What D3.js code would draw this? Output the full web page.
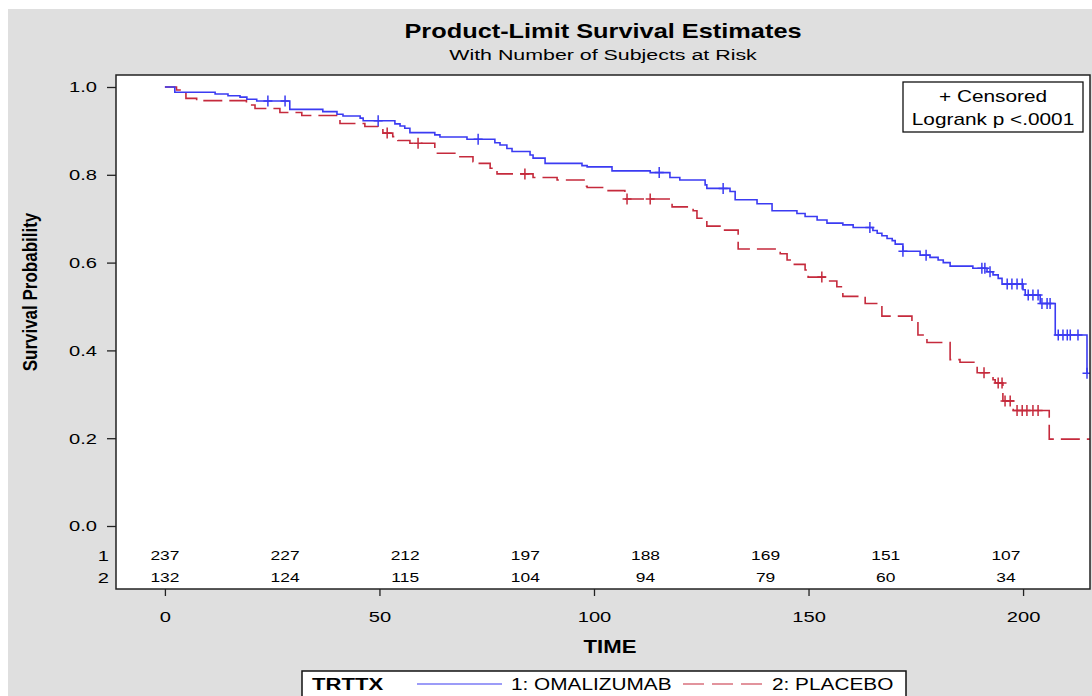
<!DOCTYPE html>
<html>
<head>
<meta charset="utf-8">
<script src="https://cdn.jsdelivr.net/npm/d3@7.9.0/dist/d3.min.js"></script>
<style>
  body { margin: 0; background: #fff; }
  svg text { font-family: "Liberation Sans", Arial, sans-serif; fill: #000; }
</style>
</head>
<body>
<svg id="chart" width="1092" height="696"></svg>
<script>
// KM steps: time of each event and survival after it
const omaTime = [2.3,11.7,14.7,17.5,19.1,21.4,29.1,36.8,40.1,41.5,45.5,46.2,53.6,54.8,55.9,57.1,62.9,64.1,70.4,76.9,78.1,79.7,80.9,85.1,85.8,88.6,97.2,98.4,104.2,113.1,117.7,120.0,125.9,126.3,131.7,132.9,138.0,141.5,147.3,149.2,152.0,154.3,158.0,160.4,165.0,166.0,167.1,168.3,169.5,170.2,172.0,176.0,178.3,180.2,181.4,183.0,188.3,191.6,193.0,194.2,195.1,200.0,200.5,204.0,207.5,214.9];
const omaSurv = [0.988,0.984,0.980,0.977,0.972,0.968,0.949,0.944,0.938,0.934,0.929,0.923,0.916,0.911,0.906,0.896,0.891,0.886,0.881,0.873,0.868,0.860,0.853,0.845,0.838,0.826,0.821,0.818,0.809,0.805,0.794,0.788,0.777,0.769,0.762,0.743,0.734,0.718,0.712,0.705,0.697,0.690,0.686,0.680,0.673,0.667,0.661,0.655,0.650,0.642,0.626,0.617,0.612,0.606,0.600,0.592,0.587,0.579,0.572,0.564,0.551,0.538,0.526,0.507,0.435,0.348];
const omaCensor = [24.0,28.0,49.7,73.0,115.2,130.1,164.3,172.0,177.4,190.4,191.1,192.3,196.3,197.4,198.6,199.8,201.2,202.3,203.5,204.4,205.6,206.3,208.2,209.3,210.3,211.0,212.8,214.9];
const omaEnd = 214.9;

const plaTime = [2.7,4.9,7.4,19.0,19.8,21.0,26.8,31.9,40.0,40.8,46.6,49.7,50.8,53.1,54.3,57.1,62.9,68.1,71.8,72.3,75.8,77.4,85.8,91.4,97.9,98.4,103.0,107.2,118.2,123.1,124.0,126.3,130.1,133.6,143.4,145.0,146.2,149.2,149.9,154.5,156.6,158.0,163.2,167.1,174.1,175.5,177.6,183.0,185.3,189.3,193.0,193.5,195.3,197.7,206.1];
const plaSurv = [0.993,0.974,0.969,0.963,0.959,0.951,0.942,0.935,0.925,0.917,0.910,0.905,0.895,0.887,0.878,0.872,0.849,0.841,0.830,0.826,0.815,0.802,0.794,0.788,0.774,0.771,0.764,0.745,0.727,0.718,0.701,0.683,0.674,0.631,0.620,0.606,0.596,0.583,0.567,0.558,0.545,0.523,0.507,0.478,0.465,0.435,0.418,0.379,0.373,0.349,0.333,0.326,0.285,0.263,0.198];
const plaCensor = [51.8,59.0,83.9,107.7,113.1,153.1,190.9,194.2,195.1,195.8,197.0,198.6,199.8,200.9,202.3,203.5];
const plaEnd = 216;

// subjects at risk
const riskTimes = [0,28,56,84,112,140,168,196];
const omaRisk = [237,227,212,197,188,169,151,107];
const plaRisk = [132,124,115,104,94,79,60,34];

const xTicks = [0,50,100,150,200];
const yTicks = [0,0.2,0.4,0.6,0.8,1.0];

const blue = '#3b3bf2';
const red = '#c52a3c';
const SX = 1.3; // the SAS text is drawn wide

const svg = d3.select('#chart');
const fL = 116, fT = 75, fR = 1090, fB = 589;

// grey page
svg.append('rect').attr('x', 8).attr('y', 9).attr('width', 1084).attr('height', 687).attr('fill', '#dfdfdf');

const x = d3.scaleLinear().domain([-11.4, 215.6]).range([fL, fR]);
const y = d3.scaleLinear().domain([0, 1]).range([526, 87]);

svg.append('rect')
  .attr('x', fL).attr('y', fT).attr('width', fR - fL).attr('height', fB - fT)
  .attr('fill', '#fff');

svg.append('clipPath').attr('id', 'plotclip')
  .append('rect').attr('x', fL).attr('y', fT).attr('width', fR - fL).attr('height', fB - fT);

// wide text helper
function wtext(g, tx, ty, str, size, anchor, weight, sx) {
  return g.append('text')
    .attr('transform', `translate(${tx},${ty}) scale(${sx || SX},1)`)
    .attr('text-anchor', anchor || 'middle')
    .attr('font-size', size)
    .attr('font-weight', weight || 'normal')
    .text(str);
}

/*curves*/
function stepData(times, surv, end) {
  let pts = [{ t: 0, s: 1 }];
  times.forEach((t, i) => pts.push({ t: t, s: surv[i] }));
  pts.push({ t: end, s: surv[surv.length - 1] });
  return pts;
}

function survAt(times, surv, t) {
  let s = 1;
  times.forEach((tt, i) => { if (tt <= t) s = surv[i]; });
  return s;
}

const line = d3.line().x(d => x(d.t)).y(d => y(d.s)).curve(d3.curveStepAfter);
const plot = svg.append('g').attr('clip-path', 'url(#plotclip)');

plot.append('path')
  .datum(stepData(plaTime, plaSurv, plaEnd))
  .attr('d', line).attr('fill', 'none').attr('stroke', red)
  .attr('stroke-width', 1.6).attr('stroke-dasharray', '19,7');

plot.append('path')
  .datum(stepData(omaTime, omaSurv, omaEnd))
  .attr('d', line).attr('fill', 'none').attr('stroke', blue).attr('stroke-width', 1.6);

// censor marks
function drawCensor(times, surv, cens, color) {
  plot.append('g').selectAll('path')
    .data(cens)
    .join('path')
    .attr('d', t => {
      const cx = x(t), cy = y(survAt(times, surv, t));
      return `M${cx - 4.5},${cy}h9M${cx},${cy - 5.5}v11`;
    })
    .attr('stroke', color).attr('stroke-width', 1.5).attr('fill', 'none');
}
drawCensor(plaTime, plaSurv, plaCensor, red);
drawCensor(omaTime, omaSurv, omaCensor, blue);

// frame
svg.append('rect')
  .attr('x', fL).attr('y', fT).attr('width', fR - fL).attr('height', fB - fT)
  .attr('fill', 'none').attr('stroke', '#222').attr('stroke-width', 1.5);

/*axes*/
const yAxis = svg.append('g')
  .attr('transform', `translate(${fL},0)`)
  .call(d3.axisLeft(y).tickValues(yTicks).tickFormat(d3.format('.1f')).tickSize(9).tickPadding(0));
yAxis.select('.domain').remove();
yAxis.selectAll('line').attr('stroke', '#222').attr('stroke-width', 1.3);
yAxis.selectAll('text')
  .attr('font-size', 15.5)
  .attr('x', -19 / SX)
  .attr('transform', `scale(${SX},1)`);

const xAxis = svg.append('g')
  .attr('transform', `translate(0,${fB})`)
  .call(d3.axisBottom(x).tickValues(xTicks).tickSize(7).tickPadding(15));
xAxis.select('.domain').remove();
xAxis.selectAll('line').attr('stroke', '#222').attr('stroke-width', 1.3);
xAxis.selectAll('text')
  .attr('font-size', 15.5)
  .attr('transform', `scale(${SX},1)`);

/*numbers at risk*/
const riskG = svg.append('g');
riskTimes.forEach((t, i) => {
  wtext(riskG, x(t), 560, omaRisk[i], 12, 'middle', 'normal', 1.45);
  wtext(riskG, x(t), 582, plaRisk[i], 12, 'middle', 'normal', 1.45);
});
wtext(riskG, 109, 561, '1', 15.5, 'end');
wtext(riskG, 109, 583, '2', 15.5, 'end');

/*titles*/
wtext(svg, 603, 38, 'Product-Limit Survival Estimates', 19.5, 'middle', 'bold');
wtext(svg, 603, 60, 'With Number of Subjects at Risk', 15.5, 'middle', 'normal', 1.38);
wtext(svg, 610, 653, 'TIME', 18, 'middle', 'bold', 1.23);

svg.append('text')
  .attr('transform', 'translate(37,292) rotate(-90) scale(1,1.2)')
  .attr('text-anchor', 'middle')
  .attr('font-size', 17)
  .attr('font-weight', 'bold')
  .text('Survival Probability');

/*inset box*/
svg.append('rect').attr('x', 903).attr('y', 82).attr('width', 180).attr('height', 50)
  .attr('fill', '#fff').attr('stroke', '#111').attr('stroke-width', 1.3);
wtext(svg, 993, 101.5, '+ Censored', 16, 'middle');
wtext(svg, 993, 124.5, 'Logrank p <.0001', 16, 'middle');

/*legend*/
const leg = svg.append('g');
leg.append('rect').attr('x', 302).attr('y', 671).attr('width', 604).attr('height', 28)
  .attr('fill', '#fff').attr('stroke', '#111').attr('stroke-width', 1.5);
wtext(leg, 312, 690, 'TRTTX', 17, 'start', 'bold');
leg.append('line').attr('x1', 417).attr('x2', 502).attr('y1', 684).attr('y2', 684)
  .attr('stroke', blue).attr('stroke-width', 1.2);
wtext(leg, 511, 690, '1: OMALIZUMAB', 16, 'start');
leg.append('line').attr('x1', 683).attr('x2', 762).attr('y1', 684).attr('y2', 684)
  .attr('stroke', red).attr('stroke-width', 1.2).attr('stroke-dasharray', '21,8');
wtext(leg, 772, 690, '2: PLACEBO', 16, 'start');
</script>
</body>
</html>
